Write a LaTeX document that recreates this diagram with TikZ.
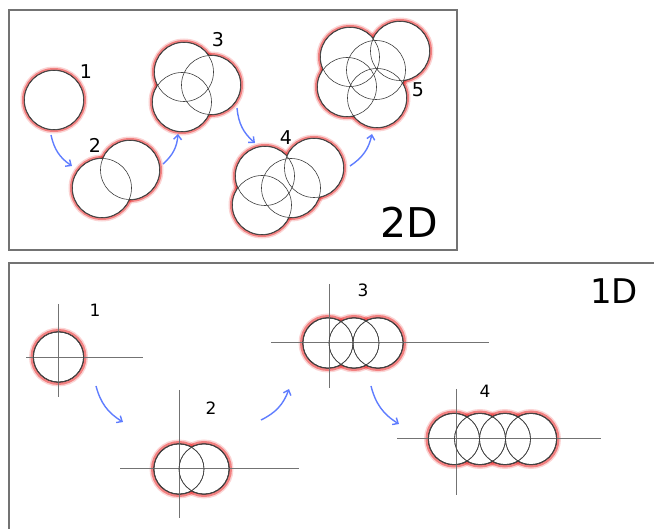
\documentclass[tikz,border=0pt]{standalone}
\usepackage{fontspec}
\setmainfont{DejaVu Sans}
\usetikzlibrary{arrows.meta}
\definecolor{arrblue}{RGB}{95,125,255}
\definecolor{glowred}{RGB}{235,60,60}
\newcommand\glowgroup[3]{%
  \foreach \p in {#3} \draw[glowred, line width=#2+3pt, opacity=0.22] \p circle (#1);
  \foreach \p in {#3} \draw[glowred, line width=#2, opacity=0.55] \p circle (#1);
  \foreach \p in {#3} \draw[black!85, line width=1.4pt] \p circle (#1);
  \foreach \p in {#3} \fill[white] \p circle (#1);
  \foreach \p in {#3} \draw[black!75, line width=0.6pt] \p circle (#1);
}
\tikzset{
  panel/.style={draw=black!55, line width=1.2pt},
  axis/.style={draw=black!55, line width=1pt},
  flow/.style={arrblue, line width=1.4pt, -{Straight Barb[length=4.5pt,width=8pt]}, bend right=22},
  numtop/.style={font=\fontsize{19}{19}\selectfont, inner sep=0pt},
  numbot/.style={font=\fontsize{17}{17}\selectfont, inner sep=0pt},
}
\begin{document}
\begin{tikzpicture}[x=1pt, y=-1pt]
\useasboundingbox (0,0) rectangle (654,529);
% panels
\draw[panel] (9,10) rectangle (457,250);
\draw[panel] (654,263) -- (9,263) -- (9,529);

% ---- 2D ----
\glowgroup{29.5pt}{5pt}{(54,100)}
\glowgroup{29.5pt}{5pt}{(102,188),(130,170)}
\glowgroup{29.5pt}{5pt}{(184,72),(211,85),(182,102)}
\glowgroup{29.5pt}{5pt}{(265,176),(314,168),(262,205),(291,188)}
\glowgroup{29.5pt}{5pt}{(350,57),(400,51),(376,70),(347,87),(377,98)}

\node[numtop] (t1) at (86,72) {1};
\node[numtop] (t2) at (95,145) {2};
\node[numtop] (t3) at (218,40) {3};
\node[numtop] (t4) at (286,138) {4};
\node[numtop] (t5) at (418,90) {5};
\node[font=\fontsize{41}{41}\selectfont, inner sep=0pt] (td) at (409,222) {2D};

\coordinate (a1s) at (51,135); \coordinate (a1e) at (72,166);
\coordinate (a2s) at (163,164); \coordinate (a2e) at (178,134);
\coordinate (a3s) at (237,108); \coordinate (a3e) at (255,143);
\coordinate (a4s) at (350,166); \coordinate (a4e) at (372,134);
\draw[flow] (a1s) to (a1e);
\draw[flow] (a2s) to (a2e);
\draw[flow] (a3s) to (a3e);
\draw[flow] (a4s) to (a4e);

% ---- 1D ----
\glowgroup{25pt}{6pt}{(58.5,357)}
\glowgroup{25pt}{6pt}{(179,469),(204,469)}
\glowgroup{25pt}{6pt}{(328,343),(354,343),(378,343)}
\glowgroup{25.5pt}{6pt}{(454,439),(480,439),(505,439),(531,439)}

\coordinate (h1a) at (26,358); \coordinate (h1b) at (143,358);
\coordinate (v1a) at (58,304); \coordinate (v1b) at (58,397);
\coordinate (h2a) at (120,469); \coordinate (h2b) at (299,469);
\coordinate (v2a) at (179,390); \coordinate (v2b) at (179,518);
\coordinate (h3a) at (271,343); \coordinate (h3b) at (489,343);
\coordinate (v3a) at (329,284); \coordinate (v3b) at (329,388);
\coordinate (h4a) at (397,439); \coordinate (h4b) at (601,439);
\coordinate (v4a) at (456,389); \coordinate (v4b) at (456,495);
\foreach \i in {1,2,3,4} {
  \draw[axis] (h\i a) -- (h\i b);
  \draw[axis] (v\i a) -- (v\i b);
}
% redraw thin circles over axes
\foreach \p/\r in {(58.5,357)/25pt,(179,469)/25pt,(204,469)/25pt,(328,343)/25pt,(354,343)/25pt,(378,343)/25pt,(454,439)/25.5pt,(480,439)/25.5pt,(505,439)/25.5pt,(531,439)/25.5pt}
  \draw[black!75, line width=0.6pt] \p circle (\r);

\node[numbot] (b1) at (95,310) {1};
\node[numbot] (b2) at (211,408) {2};
\node[numbot] (b3) at (363,290) {3};
\node[numbot] (b4) at (485,391) {4};
\node[font=\fontsize{34}{34}\selectfont, inner sep=0pt] (bd) at (614,291) {1D};

\coordinate (c1s) at (96,386); \coordinate (c1e) at (123,422);
\coordinate (c2s) at (261,420); \coordinate (c2e) at (289,389);
\coordinate (c3s) at (371,386); \coordinate (c3e) at (399,424);
\draw[flow] (c1s) to (c1e);
\draw[flow] (c2s) to (c2e);
\draw[flow] (c3s) to (c3e);
\end{tikzpicture}
\end{document}
